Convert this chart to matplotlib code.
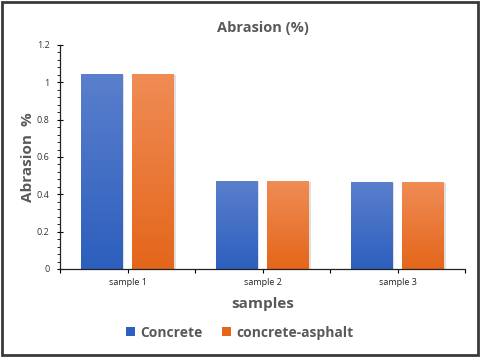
import numpy as np
import matplotlib.pyplot as plt
from matplotlib.colors import LinearSegmentedColormap
from matplotlib.patches import Rectangle, Patch
from matplotlib.ticker import MultipleLocator

plt.rcParams['font.family'] = ['Open Sans', 'DejaVu Sans']

samples = ["sample 1", "sample 2", "sample 3"]
concrete = [1.045, 0.47, 0.465]
concrete_asphalt = [1.045, 0.47, 0.465]
yticks = [0, 0.2, 0.4, 0.6, 0.8, 1, 1.2]
ytick_labels = ["0", "0.2", "0.4", "0.6", "0.8", "1", "1.2"]

grey = "#595959"
blue_top, blue_bot = "#5a7fcc", "#2d5fbe"
orange_top, orange_bot = "#f08c55", "#e4661a"

fig = plt.figure(figsize=(4.8, 3.57), dpi=100)
ax = fig.add_axes([0.125, 0.2465, 0.844, 0.6275])

x = np.arange(len(samples))
w = 0.31
off = 0.19


def gradient_bars(xs, vals, top, bot):
    cmap = LinearSegmentedColormap.from_list("g", [bot, top])
    grad = np.linspace(0, 1, 256).reshape(-1, 1)
    for xi, v in zip(xs, vals):
        # light shadow behind the bar
        ax.add_patch(Rectangle((xi - w / 2 + 0.012, 0), w, v - 0.004,
                               facecolor="#000000", alpha=0.12, lw=0, zorder=1))
        r = Rectangle((xi - w / 2, 0), w, v, facecolor="none", lw=0, zorder=2)
        ax.add_patch(r)
        im = ax.imshow(grad, cmap=cmap, aspect="auto", origin="lower",
                       extent=(xi - w / 2, xi + w / 2, 0, v), zorder=2)
        im.set_clip_path(r)


gradient_bars(x - off, concrete, blue_top, blue_bot)
gradient_bars(x + off, concrete_asphalt, orange_top, orange_bot)

ax.set_xlim(-0.5, 2.5)
ax.set_ylim(0, 1.2)
ax.set_xticks(x)
ax.set_xticklabels(samples, fontsize=6.5, color="#222222")
ax.set_xticks([-0.5, 0.5, 1.5, 2.5], minor=True)
ax.set_yticks(yticks)
ax.set_yticklabels(ytick_labels, fontsize=6.5, color="#333333")
ax.yaxis.set_minor_locator(MultipleLocator(0.04))
ax.tick_params(axis="y", which="major", direction="inout", length=5, width=0.8, pad=5)
ax.tick_params(axis="y", which="minor", direction="out", length=2.5, width=0.6)
ax.tick_params(axis="x", which="both", direction="out", length=3, width=0.8)

for s in ["top", "right"]:
    ax.spines[s].set_visible(False)
for s in ["left", "bottom"]:
    ax.spines[s].set_color("#222222")
    ax.spines[s].set_linewidth(0.9)

ax.set_title("Abrasion (%)", fontsize=10.5, fontweight="bold", color=grey, pad=9)
ax.set_ylabel("Abrasion  %", fontsize=11, fontweight="bold", color=grey, labelpad=1)
ax.set_xlabel("samples", fontsize=11, fontweight="bold", color=grey, labelpad=7)

handles = [Patch(facecolor=blue_bot, label="Concrete"),
           Patch(facecolor=orange_bot, label="concrete-asphalt")]
leg = fig.legend(handles=handles, loc="center", bbox_to_anchor=(0.5, 0.068), ncol=2,
                 frameon=False, fontsize=10, handlelength=0.65, handleheight=0.65,
                 handletextpad=0.4, columnspacing=1.4)
for t in leg.get_texts():
    t.set_color(grey)
    t.set_fontweight("bold")

fig.add_artist(Rectangle((0.004, 0.006), 0.992, 0.988, transform=fig.transFigure,
                         fill=False, edgecolor="#3a3a3a", lw=2))

fig.savefig("out.png", dpi=100)
